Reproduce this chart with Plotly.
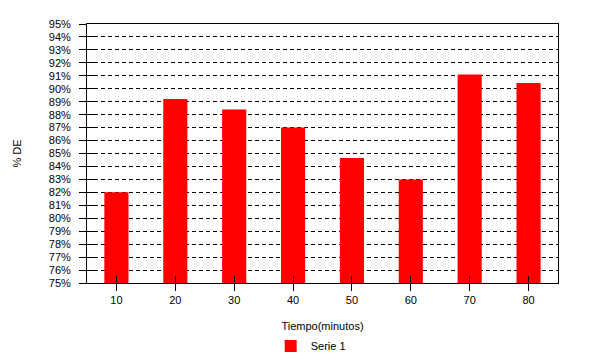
import plotly.graph_objects as go

categories = ["10", "20", "30", "40", "50", "60", "70", "80"]
values = [82.0, 89.2, 88.4, 87.0, 84.65, 83.0, 91.1, 90.45]
series_name = "Serie 1"
y_ticks = list(range(75, 96))

FONT = "Liberation Sans"

fig = go.Figure()
fig.add_trace(go.Bar(
    x=categories, y=values, name=series_name,
    marker=dict(color="#FF0000", line=dict(width=0)),
    width=0.41,
))
# helper invisible trace for inside ticks on overlay axes
fig.add_trace(go.Scatter(
    x=categories, y=values, xaxis="x2", yaxis="y2",
    mode="markers", marker=dict(opacity=0), showlegend=False, hoverinfo="skip",
))

fig.update_layout(
    width=594, height=362,
    margin=dict(l=87, r=36, t=24, b=79, autoexpand=False),
    paper_bgcolor="white", plot_bgcolor="white",
    font=dict(family=FONT, size=11, color="black"),
    showlegend=True,
    legend=dict(
        orientation="h", x=0.39, xanchor="left", y=-0.243, yanchor="middle",
        font=dict(size=11), itemwidth=30, tracegroupgap=0,
    ),
    xaxis=dict(
        type="category", categoryorder="array", categoryarray=categories,
        range=[-0.5, 7.5], automargin=False,
        showline=True, linecolor="black", linewidth=1, mirror=True,
        ticks="outside", ticklen=7, tickcolor="black", tickwidth=1,
        showgrid=False, zeroline=False,
        title=dict(text="Tiempo(minutos)", standoff=17, font=dict(size=11)),
        tickfont=dict(size=11),
    ),
    yaxis=dict(
        range=[75, 95], tickmode="array", tickvals=y_ticks, automargin=False,
        ticktext=[f"{v}%" for v in y_ticks],
        showline=True, linecolor="black", linewidth=1, mirror=True,
        ticks="outside", ticklen=7, tickcolor="black", tickwidth=1,
        showgrid=True, gridcolor="black", gridwidth=1, griddash="4px,3px",
        zeroline=False, ticklabelstandoff=6,
        title=dict(text="% DE", standoff=24, font=dict(size=11)),
        tickfont=dict(size=11),
    ),
    xaxis2=dict(
        type="category", categoryorder="array", categoryarray=categories,
        range=[-0.5, 7.5], overlaying="x", anchor="y2", side="bottom",
        ticks="inside", ticklen=7, tickcolor="black", tickwidth=1, automargin=False,
        showticklabels=False, showgrid=False, zeroline=False, showline=False,
    ),
    yaxis2=dict(
        range=[75, 95], tickmode="array", tickvals=y_ticks[1:-1],
        overlaying="y", anchor="x2", side="left", automargin=False,
        ticks="inside", ticklen=9, tickcolor="black", tickwidth=1,
        showticklabels=False, showgrid=False, zeroline=False, showline=False,
    ),
)

fig.write_html("out.html", config={"displayModeBar": False})

# remove the default body margin so the figure sits at the window origin
with open("out.html", "r", encoding="utf-8") as f:
    html = f.read()
html = html.replace("<body>", '<body style="margin:0;overflow:hidden">', 1)
with open("out.html", "w", encoding="utf-8") as f:
    f.write(html)
